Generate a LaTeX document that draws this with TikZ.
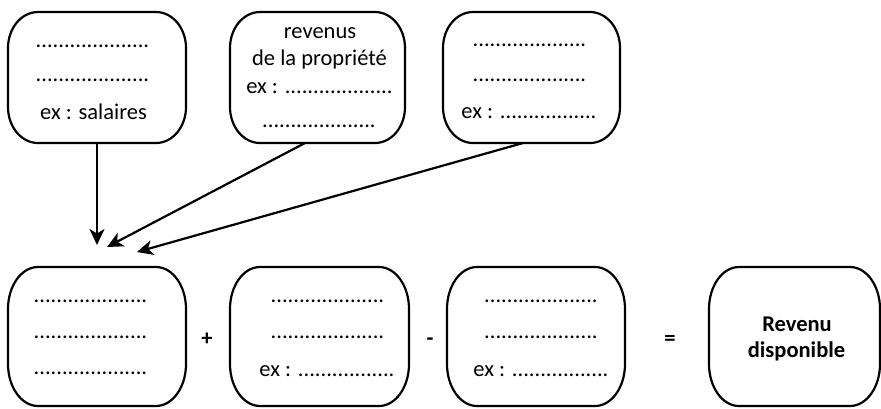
\documentclass[tikz,border=0pt]{standalone}
\usepackage{fontspec}
\setmainfont{Carlito}
\usetikzlibrary{arrows.meta,calc}
\newcommand\pfive{.....}
\newcommand\dtw{\pfive\pfive\pfive\pfive}% 20 periods
\newcommand\dsv{\pfive\pfive\pfive..}% 17 periods
\newcommand\dnn{\pfive\pfive\pfive....}% 19 periods
% rounded box with elliptical corners: node name, x radius, y radius
\newcommand\rbox[3]{%
 \draw[boxline] ([xshift=#2]#1.north west) -- ([xshift=-#2]#1.north east)
  .. controls ([xshift={-0.4477*#2}]#1.north east) and ([yshift={-0.4477*#3}]#1.north east) .. ([yshift=-#3]#1.north east)
  -- ([yshift=#3]#1.south east)
  .. controls ([yshift={0.4477*#3}]#1.south east) and ([xshift={-0.4477*#2}]#1.south east) .. ([xshift=-#2]#1.south east)
  -- ([xshift=#2]#1.south west)
  .. controls ([xshift={0.4477*#2}]#1.south west) and ([yshift={0.4477*#3}]#1.south west) .. ([yshift=#3]#1.south west)
  -- ([yshift=-#3]#1.north west)
  .. controls ([yshift={-0.4477*#3}]#1.north west) and ([xshift={0.4477*#2}]#1.north west) .. cycle;}
\tikzset{
  box/.style={inner sep=0pt, outer sep=0pt},
  boxline/.style={line width=2.2pt, line join=round},
  txt/.style={anchor=base, inner sep=0pt, font=\fontsize{22.5}{27}\selectfont},
  btxt/.style={txt, font=\bfseries\fontsize{22.5}{27}\selectfont},
  op/.style={anchor=base, inner sep=0pt, font=\bfseries\fontsize{22.5}{27}\selectfont},
  arr/.style={line width=2.2pt, -{Stealth[length=16pt,width=15pt,inset=4.5pt]}}
}
\begin{document}
\begin{tikzpicture}[x=1pt,y=-1pt]
\useasboundingbox (0,0) rectangle (881,408);
% top row boxes
\node[box, minimum width=178pt, minimum height=131pt] (t1) at (97,77.5) {};
\node[box, minimum width=175pt, minimum height=131pt] (t2) at (317.5,77.5) {};
\node[box, minimum width=177pt, minimum height=131pt] (t3) at (531.5,77.5) {};
\rbox{t1}{30pt}{36pt}
\rbox{t2}{30pt}{36pt}
\rbox{t3}{30pt}{36pt}
% bottom row boxes
\node[box, minimum width=178pt, minimum height=139pt] (b1) at (97,336.5) {};
\node[box, minimum width=179pt, minimum height=139pt] (b2) at (319.5,336.5) {};
\node[box, minimum width=178pt, minimum height=139pt] (b3) at (536,336.5) {};
\node[box, minimum width=171pt, minimum height=139pt] (b4) at (794.5,336.5) {};
\rbox{b1}{30pt}{42pt}
\rbox{b2}{30pt}{42pt}
\rbox{b3}{30pt}{42pt}
\rbox{b4}{30pt}{42pt}
% texts of top row
\node[txt] (t1a) at (92.5,47) {\dtw};
\node[txt] (t1b) at (92.5,81) {\dtw};
\node[txt] (t1c) at (93.5,119) {ex : salaires};
\node[txt] (t2a) at (320,38) {revenus};
\node[txt] (t2b) at (319.5,65) {de la propriété};
\node[txt] (t2c) at (319.5,93) {ex : \dnn};
\node[txt] (t2d) at (319,127) {\dtw};
\node[txt] (t3a) at (529.5,46) {\dtw};
\node[txt] (t3b) at (529.5,81) {\dtw};
\node[txt] (t3c) at (529,118) {ex : \dsv};
% texts of bottom row
\node[txt] (b1a) at (90.5,302) {\dtw};
\node[txt] (b1b) at (90.5,338) {\dtw};
\node[txt] (b1c) at (90.5,374) {\dtw};
\node[txt] (b2a) at (327.5,302) {\dtw};
\node[txt] (b2b) at (327.5,338) {\dtw};
\node[txt] (b2c) at (327,376) {ex : \dsv};
\node[txt] (b3a) at (541,302) {\dtw};
\node[txt] (b3b) at (541,338) {\dtw};
\node[txt] (b3c) at (541,376) {ex : \dsv};
\node[btxt] (b4a) at (797,331) {Revenu};
\node[btxt] (b4b) at (796.5,357) {disponible};
% operators
\node[op] (plus) at (207,345.5) {+};
\node[op] (minus) at (430,345.5) {-};
\node[op] (eq) at (670,345.5) {=};
% arrows
\coordinate (e1) at (97,245);
\coordinate (e2) at (107,247);
\coordinate (e3) at (137,252);
\draw[arr] (t1.south) -- (e1);
\draw[arr] ([xshift=-12.5pt]t2.south) -- (e2);
\draw[arr] ([xshift=-8.5pt]t3.south) -- (e3);
\end{tikzpicture}
\end{document}
